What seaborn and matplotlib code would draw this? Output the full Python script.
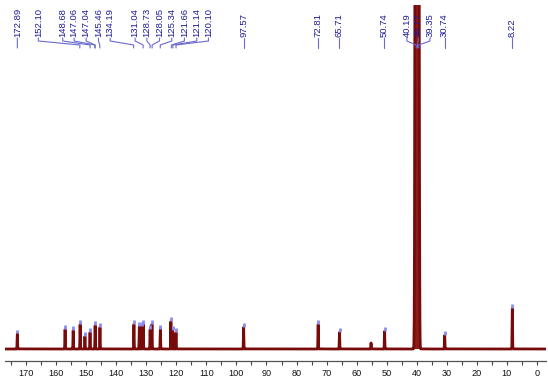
import numpy as np
import pandas as pd
import matplotlib
matplotlib.use('Agg')
import matplotlib.pyplot as plt
import matplotlib.transforms as mtransforms
import seaborn as sns

# 13C peaks (ppm, height above baseline)
peak_ppm = [172.89, 157.0, 154.3, 152.0, 150.4, 148.7, 147.0, 145.4,
            134.1, 132.3, 131.5, 131.0, 128.7, 128.1, 125.3, 121.8,
            121.2, 120.1, 97.6, 72.8, 65.7, 55.2, 50.7, 30.7, 8.2]
peak_height = [15, 19.5, 18.5, 24.5, 12.5, 16.5, 23.5, 21.5,
               24.5, 22.5, 22.5, 24.5, 19.5, 24.5, 19.5, 27.5,
               18.5, 16.5, 21.5, 24.5, 16.5, 6, 17.5, 13.5, 40.5]
peak_picked = [True] * 21 + [False] + [True] * 3

# DMSO-d6 septet, runs off the top
solvent_ppm = [40.53, 40.32, 40.11, 39.90, 39.69, 39.48, 39.27]
solvent_height = [300, 900, 1800, 2100, 1800, 900, 300]

# peak labels printed above the spectrum
label_text = ['172.89', '152.10', '148.68', '147.06', '147.04', '145.46',
              '134.19', '131.04', '128.73', '128.05', '125.34', '121.66',
              '121.14', '120.10', '97.57', '72.81', '65.71', '50.74',
              '40.19', '39.77', '39.35', '30.74', '8.22']
# where each label text sits along the axis (ppm)
label_pos = [172.9, 165.9, 157.8, 154.0, 150.0, 145.9,
             142.0, 133.7, 129.8, 125.6, 121.5, 117.3,
             113.2, 109.3, 97.57, 72.81, 65.71, 50.74,
             43.3, 39.5, 35.6, 30.74, 8.22]

# build the trace from the peak list
ppm = np.arange(-3.0, 177.0, 0.01)
inten = np.zeros_like(ppm)
for c, h in zip(peak_ppm, peak_height):
    inten += h * np.exp(-(ppm - c) ** 2 / (2 * 0.07 ** 2))
for c, h in zip(solvent_ppm, solvent_height):
    inten += h * np.exp(-(ppm - c) ** 2 / (2 * 0.15 ** 2))
df = pd.DataFrame({'ppm': ppm, 'intensity': inten})

sns.set_style('white')
plt.rcParams['font.family'] = ['Liberation Sans', 'DejaVu Sans']

W, H = 548, 382
fig = plt.figure(figsize=(W / 100, H / 100), dpi=100)
ax = fig.add_axes([5 / W, 1 - 361 / H, 541 / W, 356 / H])

ax.fill_between(df['ppm'], 0, df['intensity'], color='#8a1c1c', lw=0)
sns.lineplot(data=df, x='ppm', y='intensity', ax=ax, color='#780a0a',
             lw=2.0, estimator=None, sort=False)

# peak-pick markers
for c, h, p in zip(peak_ppm, peak_height, peak_picked):
    if p:
        ax.plot([c, c], [h + 1, h + 4.5], color='#8c8cec', lw=2, solid_capstyle='butt')

ax.set_xlim(177.0, -3.0)
ax.set_ylim(-12, 344)
ax.set_xlabel('')
ax.set_ylabel('')
ax.set_yticks([])
ax.set_xticks(np.arange(0, 171, 10))
ax.set_xticks(np.arange(5, 180, 10), minor=True)
ax.tick_params(axis='x', which='both', direction='out', length=3, width=0.8,
               color='#444444', labelsize=6.6, labelcolor='#111111', pad=3,
               bottom=True)
for s in ['left', 'top', 'right']:
    ax.spines[s].set_visible(False)
ax.spines['bottom'].set_color('#555555')
ax.spines['bottom'].set_linewidth(0.9)

# labels with leader lines
trans = mtransforms.blended_transform_factory(ax.transData, fig.transFigure)
fy = lambda py: 1 - py / H
for txt, lx in zip(label_text, label_pos):
    px = float(txt)
    ax.text(lx, fy(37), txt, transform=trans, rotation=90, rotation_mode='anchor',
            ha='left', va='center', fontsize=6.8, color='#1c1c96', zorder=5)
    ax.plot([lx, lx, px, px], [fy(38), fy(41), fy(45), fy(48)], transform=trans,
            color='#6a6ad0', lw=0.8, clip_on=False, zorder=5)

fig.savefig('out.png', dpi=100)
